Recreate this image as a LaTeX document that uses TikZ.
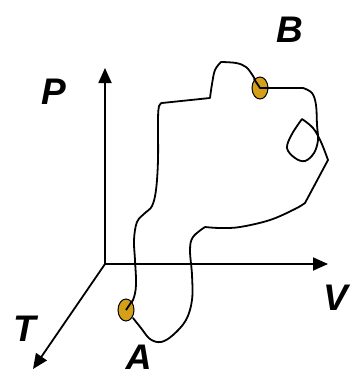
\documentclass[tikz,border=0pt]{standalone}
\usepackage{fontspec}
\setmainfont{Liberation Sans}
\usetikzlibrary{arrows.meta,shapes.geometric}
\definecolor{gold}{RGB}{212,160,23}
\begin{document}
\begin{tikzpicture}[x=1pt,y=-1pt,
  axis/.style={line width=1.8pt,-{Triangle[length=15pt,width=13pt]}},
  lbl/.style={font=\fontsize{37}{40}\selectfont\bfseries\itshape,inner sep=0pt},
  pt/.style={ellipse,draw=black,line width=1pt,fill=gold,minimum width=16pt,minimum height=22pt,inner sep=0pt},
  path/.style={line width=1.8pt,line join=round,line cap=round}]
\useasboundingbox (0,0) rectangle (351,369);
\coordinate (O) at (105,264);
\coordinate (Ptip) at (105,68);
\coordinate (Vtip) at (328,264);
\coordinate (Ttip) at (33,369);
\draw[axis] (O) -- (Ptip);
\draw[axis] (O) -- (Vtip);
\draw[axis] (O) -- (Ttip);
\node[lbl] (lP) at (54,92) {P};
\node[lbl] (lB) at (290,30) {B};
\node[lbl] (lV) at (336,298) {V};
\node[lbl] (lT) at (25,329) {T};
\node[lbl] (lA) at (139,358) {A};
\coordinate (a) at (126,310);
\coordinate (b) at (260,88);
% curve
\draw[path] (a)
  plot[smooth,tension=0.6] coordinates {(126,310) (133,300) (136,285) (135,260) (134,240) (137,222) (145,213) (152,206) (156,190) (158,160) (158,120) (159,106) (162,103)}
  -- (210,98)
  plot[smooth,tension=0.6] coordinates {(210,98) (212,84) (215,70) (221,62)}
  plot[smooth,tension=0.6] coordinates {(221,62) (236,63) (246,67) (253,76) (260,88)}
  -- (303,88)
  plot[smooth,tension=0.6] coordinates {(303,88) (312,93) (316,105) (317,125) (318,140) (314,153) (305,161) (295,158) (287,148) (292,134) (302,119)}
  plot[smooth,tension=0.6] coordinates {(302,119) (313,128) (321,142) (328,160)}
  -- (305,203)
  plot[smooth,tension=0.6] coordinates {(305,203) (295,209) (270,220) (240,227) (220,228) (205,227)}
  plot[smooth,tension=0.6] coordinates {(205,227) (193,237) (190,250) (192,275) (192,300) (186,320) (173,335) (161,342) (150,339) (141,328) (133,318)};
\node[pt] (A) at (a) {};
\node[pt] (B) at (b) {};
\draw[path,line cap=butt] (A.center) -- ++(6,-9);
\draw[path,line cap=butt] (b) ++(-6,-9) -- (B.center) -- (B.east);
\end{tikzpicture}
\end{document}
